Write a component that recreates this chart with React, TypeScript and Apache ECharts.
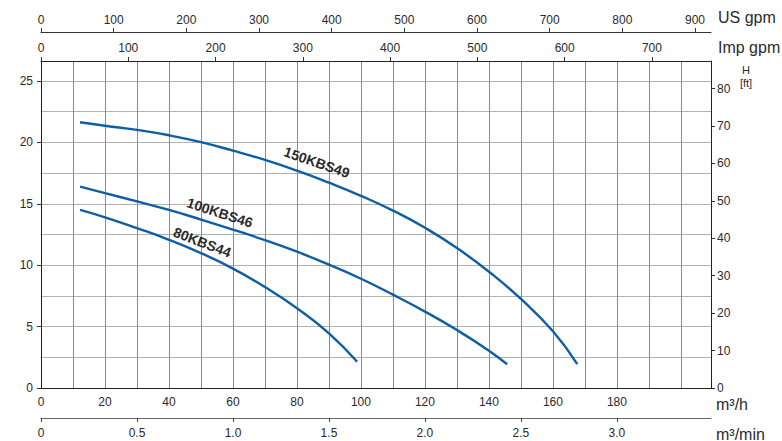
import React, { useEffect, useRef } from "react";
import * as echarts from "echarts";

// Axis extents (m3/h and m)
const flowMax = 209.4;
const headMax = 26.63;

// Unit conversions from m3/h / m
const US_GPM = 4.40287;
const IMP_GPM = 3.66615;
const M3MIN = 1 / 60;
const FT = 1 / 0.3048;

// Tick labels
const flowTicks = [0, 20, 40, 60, 80, 100, 120, 140, 160, 180];
const minTicks = [0, 0.5, 1, 1.5, 2, 2.5, 3];
const usTicks = [0, 100, 200, 300, 400, 500, 600, 700, 800, 900];
const impTicks = [0, 100, 200, 300, 400, 500, 600, 700];
const mTicks = [0, 5, 10, 15, 20, 25];
const ftTicks = [0, 10, 20, 30, 40, 50, 60, 70, 80];

// Curves: flow (m3/h) and head (m)
const names = ["150KBS49", "100KBS46", "80KBS44"];
const q150 = [12.2, 20, 30, 40, 50, 60, 70, 80, 90, 100, 110, 120, 130, 140, 150, 160, 167.6];
const h150 = [21.64, 21.36, 21.02, 20.58, 20.02, 19.33, 18.57, 17.7, 16.72, 15.65, 14.45, 13.05, 11.4, 9.47, 7.25, 4.62, 1.95];
const q100 = [12.2, 20, 30, 40, 50, 60, 70, 80, 90, 100, 110, 120, 130, 140, 145.7];
const h100 = [16.4, 15.87, 15.2, 14.5, 13.72, 12.9, 12.04, 11.1, 10.04, 8.9, 7.6, 6.22, 4.72, 3.04, 1.93];
const q80 = [12.2, 20, 30, 40, 50, 60, 70, 80, 90, 98.8];
const h80 = [14.5, 13.9, 13.02, 12.07, 10.98, 9.72, 8.22, 6.49, 4.45, 2.14];

// Curve label anchors [flow, head] and rotation
const labelAt = [
  [86.2, 18.38],
  [55.9, 14.28],
  [50.4, 11.87],
];
const labelRot = [-19, -18, -21];

const FONT = "Liberation Sans, Arial, sans-serif";
const TXT = "#2a2a2a";
const BLUE = "#0d5ea2";

const zip = (q: number[], h: number[]) => q.map((v, i) => [v, h[i]]);

export default function App() {
  const ref = useRef<HTMLDivElement>(null);
  useEffect(() => {
    if (!ref.current) return;
    const chart = echarts.init(ref.current, null, { renderer: "svg" });
    const lbl = { color: TXT, fontSize: 12, fontFamily: FONT };
    const hidden = {
      axisLine: { show: false },
      axisTick: { show: false },
      axisLabel: { show: false },
    };
    const curves = [zip(q150, h150), zip(q100, h100), zip(q80, h80)];
    chart.setOption({
      animation: false,
      backgroundColor: "#ffffff",
      grid: { left: 41, top: 61, right: 71, bottom: 53, containLabel: false },
      xAxis: [
        {
          type: "value",
          position: "bottom",
          min: 0,
          max: flowMax,
          interval: 10,
          axisLine: { show: true, onZero: false, lineStyle: { color: "#222", width: 1 } },
          axisTick: { show: false },
          axisLabel: { ...lbl, customValues: flowTicks, margin: 8 },
          splitLine: { show: false },
          z: 3,
        },
        {
          type: "value",
          position: "bottom",
          offset: 30,
          min: 0,
          max: flowMax * M3MIN,
          axisLine: { show: true, onZero: false, lineStyle: { color: "#666", width: 1 } },
          axisTick: { show: true, customValues: minTicks, length: 4, lineStyle: { color: "#444" } },
          axisLabel: {
            ...lbl,
            customValues: minTicks,
            margin: 9,
            formatter: (v: number) => (v === 0 ? "0" : v.toFixed(1)),
          },
          splitLine: { show: false },
        },
        {
          type: "value",
          position: "top",
          offset: 29,
          min: 0,
          max: flowMax * US_GPM,
          axisLine: { show: true, onZero: false, lineStyle: { color: "#333", width: 1 } },
          axisTick: { show: true, customValues: usTicks, length: 4, lineStyle: { color: "#333" } },
          axisLabel: { ...lbl, customValues: usTicks, margin: 6 },
          splitLine: { show: false },
        },
        {
          type: "value",
          position: "top",
          offset: 0,
          min: 0,
          max: flowMax * IMP_GPM,
          axisLine: { show: true, onZero: false, lineStyle: { color: "#222", width: 1 } },
          axisTick: { show: true, customValues: impTicks, length: 4, lineStyle: { color: "#333" } },
          axisLabel: { ...lbl, customValues: impTicks, margin: 7 },
          splitLine: { show: false },
        },
        {
          type: "value",
          position: "bottom",
          min: 0,
          max: flowMax,
          interval: 10,
          ...hidden,
          splitLine: { show: true, lineStyle: { color: "#8c8c8c", width: 1 } },
        },
      ],
      yAxis: [
        {
          type: "value",
          position: "left",
          min: 0,
          max: headMax,
          interval: 5,
          axisLine: { show: true, onZero: false, lineStyle: { color: "#222", width: 1 } },
          axisTick: { show: true, customValues: mTicks, length: 4, lineStyle: { color: "#333" } },
          axisLabel: { ...lbl, customValues: mTicks, margin: 8 },
          splitLine: { show: false },
          z: 3,
        },
        {
          type: "value",
          position: "right",
          min: 0,
          max: headMax * FT,
          axisLine: { show: true, onZero: false, lineStyle: { color: "#222", width: 1 } },
          axisTick: { show: true, customValues: ftTicks, length: 4, lineStyle: { color: "#333" } },
          axisLabel: { ...lbl, customValues: ftTicks, margin: 6 },
          splitLine: { show: false },
        },
        {
          type: "value",
          position: "left",
          min: 0,
          max: headMax,
          interval: 2.5,
          ...hidden,
          splitLine: { show: true, lineStyle: { color: "#b2b2b2", width: 1 } },
        },
      ],
      series: curves.map((data, i) => ({
        type: "line",
        name: names[i],
        xAxisIndex: 0,
        yAxisIndex: 0,
        data,
        smooth: 0.5,
        showSymbol: false,
        symbol: "none",
        lineStyle: { color: BLUE, width: 2.4 },
        itemStyle: { color: BLUE },
        z: 5,
        markPoint: {
          symbol: "circle",
          symbolSize: 0,
          silent: true,
          label: {
            show: true,
            position: "inside",
            formatter: names[i],
            rotate: labelRot[i],
            fontSize: 14,
            fontWeight: "bold",
            fontFamily: FONT,
            color: TXT,
          },
          data: [{ coord: labelAt[i] }],
        },
      })),
      graphic: [
        { type: "text", x: 718, y: 17, style: { text: "US gpm", fontSize: 16, fontFamily: FONT, fill: TXT, verticalAlign: "middle", align: "left" } },
        { type: "text", x: 718, y: 47, style: { text: "Imp gpm", fontSize: 16, fontFamily: FONT, fill: TXT, verticalAlign: "middle", align: "left" } },
        { type: "text", x: 746, y: 70, style: { text: "H", fontSize: 11, fontFamily: FONT, fill: TXT, verticalAlign: "middle", align: "center" } },
        { type: "text", x: 746, y: 83, style: { text: "[ft]", fontSize: 11, fontFamily: FONT, fill: TXT, verticalAlign: "middle", align: "center" } },
        { type: "text", x: 716, y: 404, style: { text: "m³/h", fontSize: 16, fontFamily: FONT, fill: TXT, verticalAlign: "middle", align: "left" } },
        { type: "text", x: 716, y: 434, style: { text: "m³/min", fontSize: 16, fontFamily: FONT, fill: TXT, verticalAlign: "middle", align: "left" } },
      ],
    });
    return () => chart.dispose();
  }, []);
  return (
    <div
      ref={ref}
      style={{ position: "absolute", left: 0, top: 0, width: 782, height: 441, background: "#fff" }}
    />
  );
}
